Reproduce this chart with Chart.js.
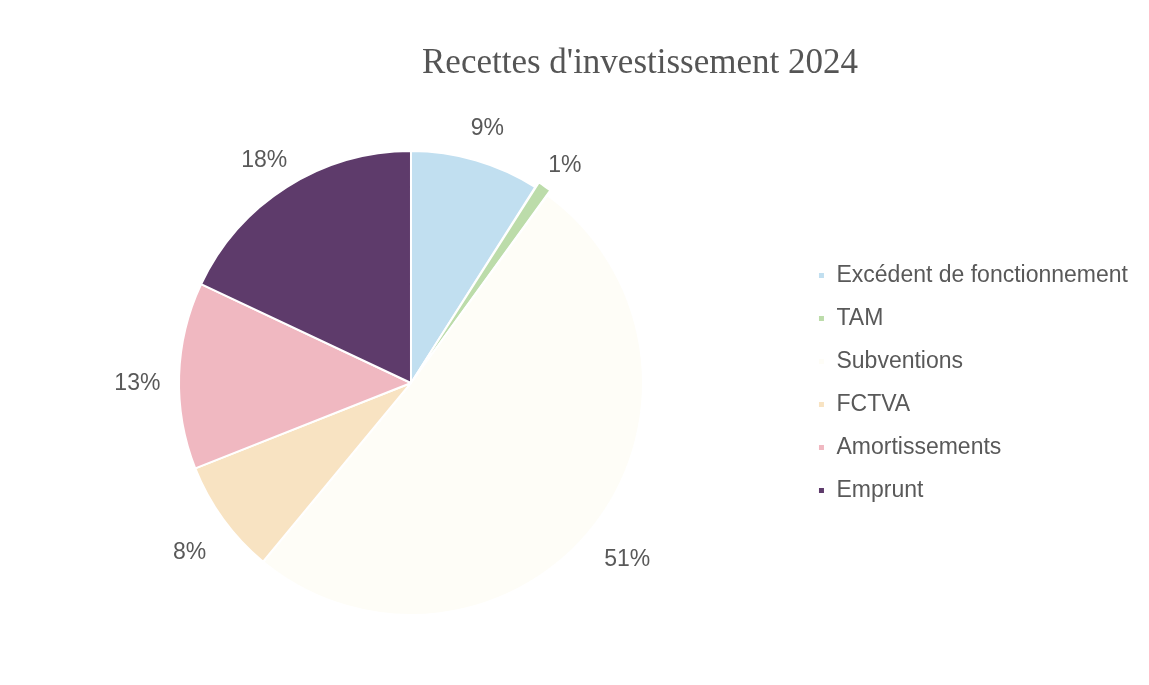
<!DOCTYPE html>
<html>
<head>
<meta charset="utf-8">
<script src="https://cdn.jsdelivr.net/npm/chart.js@4"></script>
<style>
  html, body { margin: 0; padding: 0; background: #fff; }
  #wrap { width: 1149px; height: 685px; }
</style>
</head>
<body>
<div id="wrap"><canvas id="pieChart"></canvas></div>
<script>
const title = "Recettes d'investissement 2024";
const categories = ['Excédent de fonctionnement', 'TAM', 'Subventions', 'FCTVA', 'Amortissements', 'Emprunt'];
const shares = [9, 1, 51, 8, 13, 18];
const sliceColors = ['#c1dff0', '#bcdcaa', '#fefdf7', '#f8e3c2', '#f0b8c1', '#5e3b6b'];
const sliceOffsets = [0, 12, 0, 0, 0, 0];

// percentage labels outside the slices + title
const outsideLabels = {
    id: 'outsideLabels',
    afterDatasetsDraw(chart) {
        const ctx = chart.ctx;
        const meta = chart.getDatasetMeta(0);
        ctx.save();
        ctx.fillStyle = '#595959';
        ctx.font = '23px "Liberation Sans", Arial, sans-serif';
        ctx.textAlign = 'center';
        ctx.textBaseline = 'middle';
        meta.data.forEach((arc, i) => {
            const mid = (arc.startAngle + arc.endAngle) / 2;
            const r = arc.outerRadius * 1.18;
            ctx.fillText(shares[i] + '%', arc.x + Math.cos(mid) * r, arc.y + Math.sin(mid) * r + 9);
        });
        ctx.font = '35px "Liberation Serif", "DejaVu Serif", serif';
        ctx.fillStyle = '#555555';
        ctx.fillText(title, 640, 64);
        ctx.restore();
    }
};

const ctx = document.getElementById('pieChart').getContext('2d');
new Chart(ctx, {
    type: 'pie',
    data: {
        labels: categories,
        datasets: [{
            data: shares,
            backgroundColor: sliceColors,
            borderColor: '#ffffff',
            borderWidth: 2,
            offset: sliceOffsets,
            radius: 232
        }]
    },
    options: {
        responsive: true,
        maintainAspectRatio: false,
        animation: false,
        layout: { padding: { left: 24, right: 11, top: 100, bottom: 19 } },
        plugins: {
            tooltip: { enabled: false },
            legend: {
                position: 'right',
                align: 'center',
                labels: {
                    boxWidth: 7,
                    boxHeight: 7,
                    padding: 20,
                    color: '#595959',
                    font: { family: '"Liberation Sans", Arial, sans-serif', size: 23 }
                }
            }
        }
    },
    plugins: [outsideLabels]
});
</script>
</body>
</html>
